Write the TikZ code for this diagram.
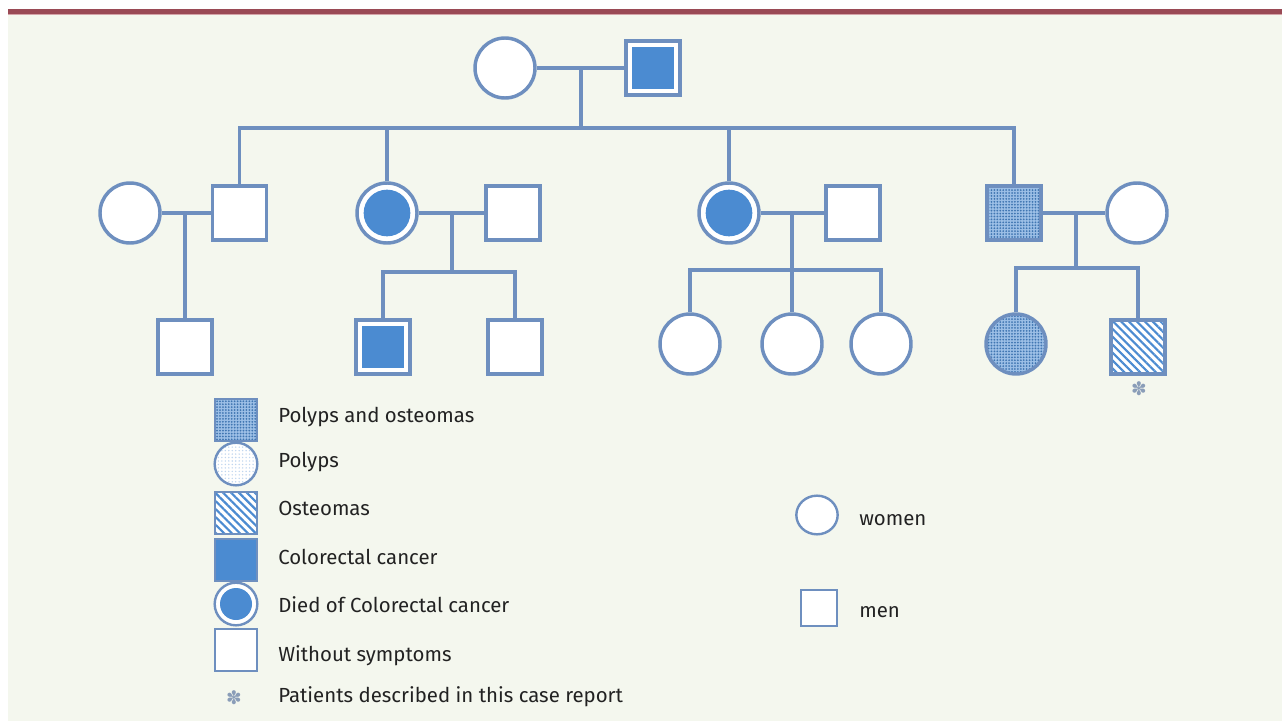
\documentclass[tikz,border=0pt]{standalone}
\usepackage{fontspec}
\setmainfont{Fira Sans}
\newfontfamily\symfont{DejaVu Sans}
\usetikzlibrary{patterns.meta,shapes.geometric}
\definecolor{edge}{HTML}{6E8FBF}
\definecolor{dark}{HTML}{4B8BD1}
\definecolor{bg}{HTML}{F4F7EE}
\definecolor{band}{HTML}{9A4A55}
\definecolor{bandlite}{HTML}{D4A4A8}
\definecolor{txt}{HTML}{222222}
\definecolor{star}{HTML}{8A9DB8}
\tikzset{
  ln/.style={draw=edge,line width=2.6pt},
  fem/.style={circle,draw=edge,line width=2.6pt,fill=white,minimum size=45pt,inner sep=0pt},
  mal/.style={rectangle,draw=edge,line width=2.6pt,fill=white,minimum size=40.5pt,inner sep=0pt},
  dfem/.style={fem,path picture={\fill[dark] (path picture bounding box.center) circle (17.5pt);}},
  dmal/.style={mal,path picture={\fill[dark] ([shift={(4.8pt,4.8pt)}]path picture bounding box.south west) rectangle ([shift={(-4.8pt,-4.8pt)}]path picture bounding box.north east);}},
  dotty/.style={preaction={fill=dark!55!white},pattern={Dots[distance=2.2pt,radius=0.75pt]},pattern color=dark!85!black},
  litedot/.style={preaction={fill=white},pattern={Dots[distance=2.6pt,radius=0.6pt]},pattern color=dark!35!white},
  hatch/.style={preaction={fill=white},pattern={Lines[angle=-45,distance=4.2pt,line width=1.6pt]},pattern color=dark},
  lgsq/.style={mal,minimum size=31.5pt,line width=1.8pt},
  lgci/.style={fem,minimum size=32pt,line width=1.8pt},
  lbl/.style={anchor=west,font=\fontsize{15.3}{18}\selectfont,text=txt,inner sep=0pt},
  ast/.style={font=\symfont\fontsize{14}{14}\selectfont,text=star,inner sep=0pt}
}
\begin{document}
\begin{tikzpicture}[x=0.75pt,y=-0.75pt]
\useasboundingbox (0,0) rectangle (1282,721);
\fill[white] (0,0) rectangle (1282,721);
\fill[bg] (8,15) rectangle (1282,721);
\fill[band] (8,9) rectangle (1282,14);
\fill[bandlite] (8,14) rectangle (1282,15.3);

% generation 1
\node[fem] (gm) at (505,68) {};
\node[dmal] (gf) at (653,68) {};
\coordinate (top) at (581,68);
\coordinate (sib) at (581,128);
\draw[ln] (gm) -- (gf);
\draw[ln] (top) -- (sib);

% generation 2
\node[fem] (w1) at (130,213) {};
\node[mal] (h1) at (239.5,213) {};
\node[dfem] (d2) at (387,213) {};
\node[mal] (h2) at (513,213) {};
\node[dfem] (d3) at (729,213) {};
\node[mal] (h3) at (853,213) {};
\node[mal,dotty] (s4) at (1014,213) {};
\node[fem] (w4) at (1137,213) {};

\draw[ln] (h1.north) |- (sib) -| (s4.north);
\draw[ln] (d2.north) -- (d2.north |- sib);
\draw[ln] (d3.north) -- (d3.north |- sib);

\draw[ln] (w1.east) -- (h1.west);
\draw[ln] (d2.east) -- (h2.west);
\draw[ln] (d3.east) -- (h3.west);
\draw[ln] (s4.east) -- (w4.west);

% generation 3
\node[mal] (c11) at (185,347) {};
\node[dmal] (c21) at (383,347) {};
\node[mal] (c22) at (515,347) {};
\node[fem] (g1) at (690,344) {};
\node[fem] (g2) at (792,344) {};
\node[fem] (g3) at (881,344) {};
\node[fem,dotty] (k1) at (1016,344) {};
\node[mal,hatch] (k2) at (1138,347) {};
\node[ast] (ka) at (1139,389) {✽};

\coordinate (j1) at (185,213);
\coordinate (j2) at (452,213);
\coordinate (b2) at (452,272);
\coordinate (j3) at (792,213);
\coordinate (b3) at (792,270);
\coordinate (j4) at (1076,213);
\coordinate (b4) at (1076,268);

\draw[ln] (j1) -- (c11.north);
\draw[ln] (j2) -- (b2);
\draw[ln] (c21.north) |- (b2) -| (c22.north);
\draw[ln] (j3) -- (g2.north);
\draw[ln] (g1.north) |- (b3) -| (g3.north);
\draw[ln] (j4) -- (b4);
\draw[ln] (k1.north) |- (b4) -| (k2.north);

% legend
\node[lgsq,dotty] (l1) at (236,420) {};
\node[lbl] (t1) at (278,417) {Polyps and osteomas};
\node[lgci,litedot] (l2) at (236,464) {};
\node[lbl] (t2) at (278,462) {Polyps};
\node[lgsq,hatch] (l3) at (236,513) {};
\node[lbl] (t3) at (278,508) {Osteomas};
\node[lgsq,fill=dark] (l4) at (236,560) {};
\node[lbl] (t4) at (278,557) {Colorectal cancer};
\node[lgci,path picture={\fill[dark] (path picture bounding box.center) circle (12pt);}] (l5) at (236,604) {};
\node[lbl] (t5) at (278,605) {Died of Colorectal cancer};
\node[lgsq] (l6) at (236,650) {};
\node[lbl] (t6) at (278,656) {Without symptoms};
\node[ast] (l7) at (234,698) {✽};
\node[lbl] (t7) at (278,697) {Patients described in this case report};

\node[ellipse,draw=edge,line width=1.8pt,fill=white,minimum width=31pt,minimum height=29pt,inner sep=0pt] (lw) at (817,515) {};
\node[lbl] (tw) at (859,520) {women};
\node[mal,minimum size=27pt,line width=1.8pt] (lm) at (819,608) {};
\node[lbl] (tm) at (859,612) {men};
\end{tikzpicture}
\end{document}
